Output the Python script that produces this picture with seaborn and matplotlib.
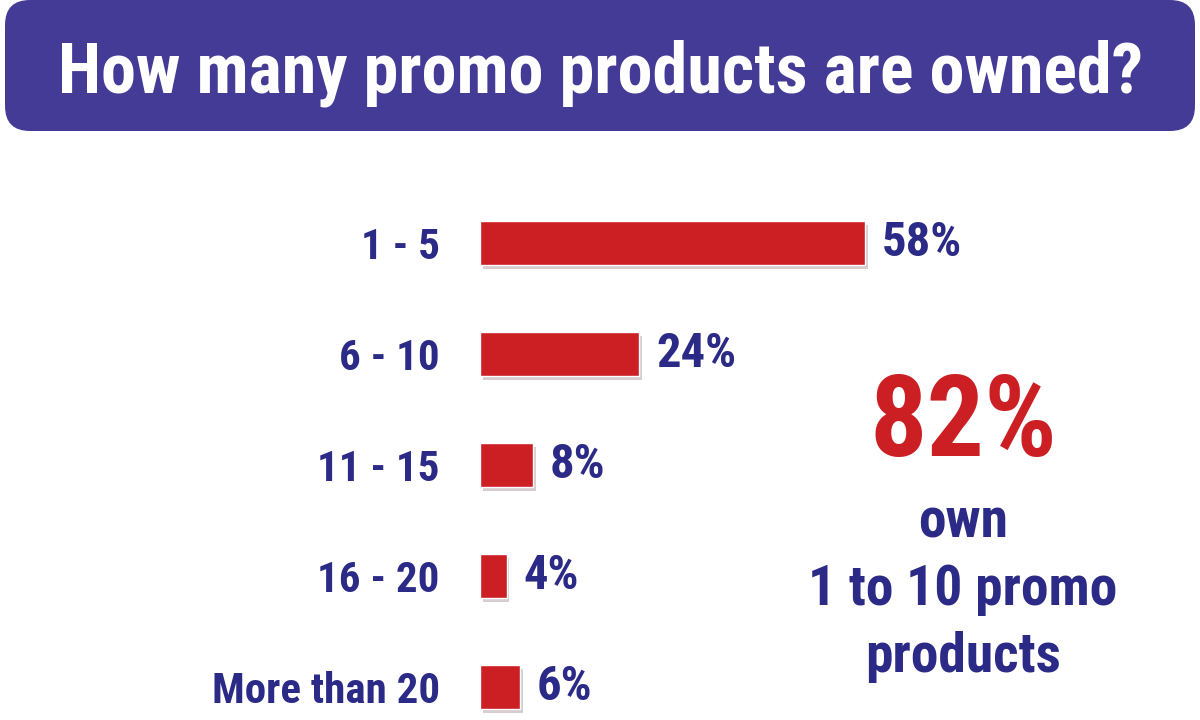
import matplotlib
matplotlib.use("Agg")
import matplotlib.pyplot as plt
from matplotlib.patches import FancyBboxPatch
import matplotlib.patheffects as pe
import seaborn as sns
import pandas as pd

categories = ["1 - 5", "6 - 10", "11 - 15", "16 - 20", "More than 20"]
values = [58, 24, 8, 4, 6]
title = "How many promo products are owned?"
callout_big = "82%"
callout_lines = ["own", "1 to 10 promo", "products"]

BAR = "#CC1F24"
NAVY = "#2B2A86"
BANNER = "#433B96"

sns.set_theme(style="white")
FAM = ["Liberation Sans Narrow", "Roboto Condensed", "Liberation Sans", "DejaVu Sans"]
plt.rcParams["font.family"] = FAM

df = pd.DataFrame({"cat": categories, "val": values})

fig = plt.figure(figsize=(12, 7.2), dpi=100)

# overlay axes in pixel coordinates for banner & callout
ov = fig.add_axes([0, 0, 1, 1], zorder=0)
ov.set_xlim(0, 1200)
ov.set_ylim(720, 0)
ov.axis("off")
ov.add_patch(FancyBboxPatch((5 + 25, 0 + 25), 1190 - 50, 131 - 50,
                            boxstyle="round,pad=25", fc=BANNER, ec="none"))
ov.text(600, 73, title, color="white", fontsize=50.5, fontweight="bold",
        ha="center", va="center")
ov.text(963, 425, callout_big, color=BAR, fontsize=82, fontweight="bold",
        ha="center", va="center")
for y, line in zip([523, 590, 657], callout_lines):
    ov.text(963, y, line, color=NAVY, fontsize=40, fontweight="bold",
            ha="center", va="center")

# bar axes: x from 480px to 1200px, 6.64 px per percent
px_per = 385 / 58
ax = fig.add_axes([480 / 1200, 0, 720 / 1200, 532.5 / 720], zorder=1)
ax.patch.set_alpha(0)
sns.barplot(data=df, x="val", y="cat", orient="h", color=BAR, width=0.4,
            saturation=1, ax=ax)
for p in ax.patches:
    p.set_path_effects([pe.SimplePatchShadow(offset=(2, -3), alpha=0.2),
                        pe.Normal()])
ax.set_xlim(0, 720 / px_per)
ax.set_ylim(4.297, -0.5)
ax.set_xlabel("")
ax.set_ylabel("")
ax.set_xticks([])
ax.tick_params(axis="y", length=0, pad=29, labelsize=31, labelcolor=NAVY)
for lab in ax.get_yticklabels():
    lab.set_fontweight("bold")
for c in ax.containers:
    ax.bar_label(c, labels=[f"{v}%" for v in values], padding=12,
                 fontsize=35, fontweight="bold", color=NAVY)
sns.despine(ax=ax, left=True, bottom=True)

fig.savefig("out.png", dpi=100)
